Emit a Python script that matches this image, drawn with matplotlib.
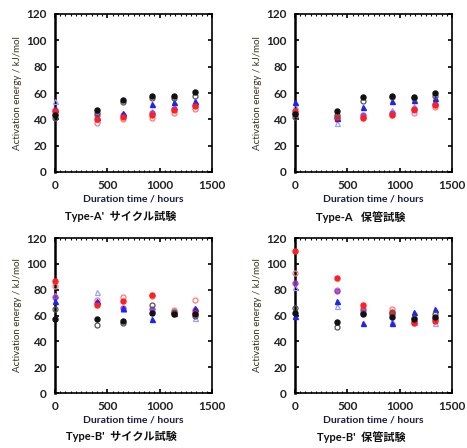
import matplotlib
matplotlib.use("Agg")
import matplotlib.pyplot as plt
from matplotlib.ticker import MultipleLocator

plt.rcParams['font.family'] = ['Lato', 'Noto Sans CJK JP', 'DejaVu Sans']

hours = [0, 400, 650, 930, 1140, 1340]

titles = ["Type-A'  サイクル試験", "Type-A   保管試験", "Type-B'  サイクル試験", "Type-B'  保管試験"]

# series per panel: black filled, black open, blue filled tri, light blue open tri, red filled, red open, purple
black_fill = [[43, 47, 55, 58, 58, 61], [44, 46, 57, 58, 57, 60],
              [57, 57, 56, 62, 61, 61], [62, 55, 61, 59, 57, 59]]
black_open = [[41, 45, 53, 56, 56, 58], [42, 43, 54, 57, 56, 58],
              [65, 53, 54, 68, 63, 60], [66, 51, 62, 62, 58, 61]]
blue_fill = [[48, 42, 45, 52, 53, 54], [53, 41, 49, 54, 55, 56],
             [71, 71, 66, 57, 62, 66], [60, 71, 54, 54, 63, 65]]
blue_open = [[54, 40, 43, 46, 50, 52], [50, 37, 43, 47, 50, 53],
             [76, 78, 65, 65, 64, 58], [82, 67, 63, 56, 55, 54]]
red_fill = [[46, 40, 42, 43, 47, 50], [46, 42, 41, 43, 48, 51],
            [87, 68, 71, 76, 62, 62], [110, 89, 68, 63, 54, 56]]
red_open = [[44, 37, 40, 41, 45, 48], [44, 40, 42, 44, 45, 49],
            [83, 72, 74, 75, 64, 72], [93, 80, 66, 65, 56, 58]]
purple_fill = [[47, 43, 43, 45, 48, 51], [45, 41, 43, 45, 47, 52],
               [74, 70, 66, 65, 62, 64], [85, 79, 64, 61, 55, 57]]

fig = plt.figure(figsize=(4.67, 4.48), dpi=100)

W = 157 / 467
positions = [
    (55 / 467, 1 - 172 / 448, W, 158 / 448),
    (295 / 467, 1 - 172 / 448, W, 158 / 448),
    (55 / 467, 1 - 393 / 448, W, 155 / 448),
    (295 / 467, 1 - 393 / 448, W, 155 / 448),
]

ms = 3.6
for i, pos in enumerate(positions):
    ax = fig.add_axes(pos)
    kw = dict(ls='none', clip_on=False, zorder=3)
    ax.plot(hours, blue_open[i], '^', ms=ms, mfc='none', mec='#9aa0ff', mew=0.9, **kw)
    ax.plot(hours, red_open[i], 'o', ms=ms, mfc='none', mec='#ff7a7a', mew=0.9, **kw)
    ax.plot(hours, purple_fill[i], 'o', ms=ms, mfc='#9933cc', mec='#9933cc', alpha=0.8, **kw)
    ax.plot(hours, blue_fill[i], '^', ms=ms, mfc='#2222ee', mec='#2222ee', **kw)
    ax.plot(hours, red_fill[i], 'o', ms=ms, mfc='#ff2020', mec='#ff2020', **kw)
    ax.plot(hours, black_open[i], 'o', ms=ms, mfc='none', mec='#555555', mew=0.9, **kw)
    ax.plot(hours, black_fill[i], 'o', ms=ms, mfc='#111111', mec='#111111', **kw)

    ax.set_xlim(0, 1500)
    ax.set_ylim(0, 120)
    ax.xaxis.set_major_locator(MultipleLocator(500))
    ax.xaxis.set_minor_locator(MultipleLocator(50))
    ax.yaxis.set_major_locator(MultipleLocator(20))
    ax.tick_params(axis='both', which='both', direction='in', top=True, right=True)
    ax.tick_params(axis='both', which='major', length=3, width=1.2, labelsize=8.5, pad=6, labelcolor='#222222')
    ax.tick_params(axis='x', which='minor', length=1.5, width=0.8)
    for lab in ax.get_xticklabels() + ax.get_yticklabels():
        lab.set_fontweight('bold')
    for s in ax.spines.values():
        s.set_linewidth(1.2)
    ax.spines['left'].set_linewidth(1.8)
    ax.set_xlabel('Duration time / hours', fontsize=7.5, color='#1a1a40', labelpad=2, fontweight='bold')
    ax.set_ylabel('Activation energy / kJ/mol', fontsize=7, color='#3a3020', labelpad=3)
    ax.text(0.42, -0.245, titles[i], transform=ax.transAxes, ha='center', va='top',
            fontsize=8, fontweight='bold', color='#111111')

fig.savefig('out.png', dpi=100)
